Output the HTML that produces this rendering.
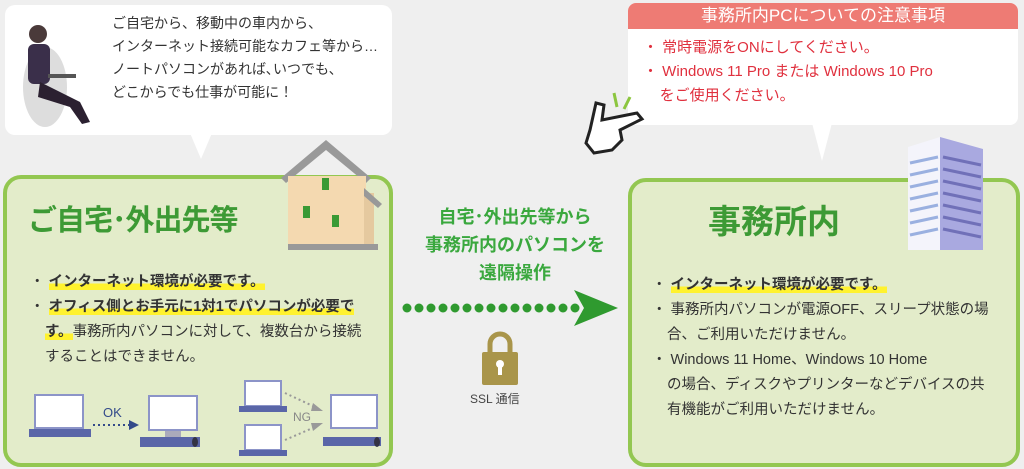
<!DOCTYPE html>
<html><head><meta charset="utf-8"><style>
body{margin:0;width:1024px;height:469px;background:#efefef;position:relative;overflow:hidden;font-family:"Liberation Sans","Noto Sans CJK JP",sans-serif;}
.a{position:absolute;}
.box{position:absolute;background:#e3ecca;border:4px solid #93c751;border-radius:18px;box-sizing:border-box;}
.t{color:#333;font-size:14.5px;line-height:25px;}
.hl{background:linear-gradient(transparent 60%,#fff22e 60%);font-weight:bold;}
</style></head><body>
<!-- left bubble -->
<div class="a" style="left:5px;top:5px;width:387px;height:130px;background:#fff;border-radius:10px;"></div>
<div class="a" style="left:190px;top:133px;width:0;height:0;border-left:11px solid transparent;border-right:11px solid transparent;border-top:26px solid #fff;"></div>
<div class="a" style="left:112px;top:12px;font-size:14px;line-height:23px;color:#333;">ご自宅から、移動中の車内から、<br>インターネット接続可能なカフェ等から…<br>ノートパソコンがあれば､いつでも、<br>どこからでも仕事が可能に！</div>
<svg class="a" style="left:10px;top:12px" width="95" height="120"><ellipse cx="35" cy="75" rx="22" ry="40" fill="#ddd"/><circle cx="28" cy="22" r="9" fill="#4a3a3a"/><rect x="18" y="32" width="22" height="40" rx="6" fill="#3a2f4a"/><path d="M30 70 L70 90 L80 110 L72 112 L60 95 L28 85Z" fill="#2b2030"/><rect x="38" y="62" width="28" height="4" fill="#555"/></svg>
<!-- right bubble -->
<div class="a" style="left:628px;top:3px;width:390px;height:122px;background:#fff;border-radius:8px;overflow:hidden;">
<div style="height:26px;background:#ee7b74;color:#fff;font-size:17px;line-height:26px;text-align:center;">事務所内PCについての注意事項</div></div>
<div class="a" style="left:812px;top:123px;width:0;height:0;border-left:10px solid transparent;border-right:10px solid transparent;border-top:38px solid #fff;"></div>
<div class="a" style="left:643px;top:36px;color:#e0303e;font-size:15px;line-height:24px;">・ 常時電源をONにしてください。<br>・ Windows 11 Pro または Windows 10 Pro<br>&nbsp;&nbsp;&nbsp;&nbsp;をご使用ください。</div>
<svg class="a" style="left:582px;top:85px" width="70" height="75"><path d="M8 45 L14 18 L22 20 L20 35 L55 28 L60 34 L38 45 L40 55 L30 65 L12 68 L4 58Z" fill="#fff" stroke="#222" stroke-width="3"/><path d="M32 8 L35 22 M48 12 L42 24" stroke="#8cc63f" stroke-width="3"/></svg>
<!-- left box -->
<div class="box" style="left:3px;top:175px;width:390px;height:292px;"></div>
<div class="a" style="left:28px;top:197px;color:#3d9a35;font-size:29px;font-weight:bold;letter-spacing:-1px;">ご自宅･外出先等</div>
<svg class="a" style="left:276px;top:138px" width="110" height="120"><path d="M5 40 L50 2 L95 40 L90 45 L50 12 L10 45Z" fill="#999"/><rect x="12" y="38" width="78" height="72" fill="#f4d9b0"/><rect x="88" y="55" width="10" height="55" fill="#e5c99f"/><path d="M88 50 L106 66 L102 70 L88 58Z" fill="#999"/><rect x="12" y="106" width="90" height="6" fill="#999"/><rect x="46" y="40" width="7" height="12" fill="#3a9a35"/><rect x="27" y="68" width="7" height="12" fill="#3a9a35"/><rect x="56" y="77" width="7" height="12" fill="#3a9a35"/></svg>
<div class="a t" style="left:30px;top:270px;width:350px;">
<div>・ <span class="hl">インターネット環境が必要です。</span></div>
<div style="padding-left:15px;text-indent:-15px;">・ <span class="hl">オフィス側とお手元に1対1でパソコンが必要で</span><br><span class="hl">す。</span>事務所内パソコンに対して、複数台から接続<br>することはできません。</div></div>
<svg class="a" style="left:25px;top:375px" width="360" height="90">
<rect x="10" y="20" width="48" height="33" fill="#fff" stroke="#8c94c8" stroke-width="2"/><rect x="4" y="54" width="62" height="8" fill="#5a66a8"/>
<rect x="124" y="21" width="48" height="34" fill="#fff" stroke="#8c94c8" stroke-width="2"/><rect x="140" y="56" width="16" height="6" fill="#aab"/><rect x="115" y="62" width="60" height="10" fill="#5a66a8"/><ellipse cx="170" cy="67" rx="3" ry="5" fill="#334"/>
<path d="M68 50 L104 50" stroke="#334a8a" stroke-width="2" stroke-dasharray="2 3"/><path d="M104 45 L114 50 L104 55Z" fill="#334a8a"/><text x="78" y="42" font-size="13" fill="#334a8a" font-family="Liberation Sans">OK</text>
<rect x="220" y="6" width="36" height="25" fill="#fff" stroke="#8c94c8" stroke-width="2"/><rect x="214" y="31" width="48" height="6" fill="#5a66a8"/>
<rect x="220" y="50" width="36" height="25" fill="#fff" stroke="#8c94c8" stroke-width="2"/><rect x="214" y="75" width="48" height="6" fill="#5a66a8"/>
<rect x="306" y="20" width="46" height="33" fill="#fff" stroke="#8c94c8" stroke-width="2"/><rect x="298" y="62" width="58" height="9" fill="#5a66a8"/><ellipse cx="352" cy="67" rx="3" ry="5" fill="#334"/>
<path d="M260 18 L290 32 M260 65 L290 52" stroke="#999" stroke-width="2" stroke-dasharray="2 3"/><path d="M288 28 L298 36 L286 36Z M286 48 L298 48 L288 56Z" fill="#999"/><text x="268" y="46" font-size="12" fill="#888" font-family="Liberation Sans">NG</text></svg>
<!-- middle -->
<div class="a" style="left:400px;top:203px;width:230px;text-align:center;color:#3aa83e;font-size:18px;line-height:28px;font-weight:bold;">自宅･外出先等から<br>事務所内のパソコンを<br>遠隔操作</div>
<svg class="a" style="left:400px;top:288px" width="222" height="42"><g fill="#2f9a2f"><path d="M174 2 L218 20 L174 38 L184 20Z"/>
<circle cx="7" cy="20" r="4.5"/><circle cx="19" cy="20" r="4.5"/><circle cx="31" cy="20" r="4.5"/><circle cx="43" cy="20" r="4.5"/><circle cx="55" cy="20" r="4.5"/><circle cx="67" cy="20" r="4.5"/><circle cx="79" cy="20" r="4.5"/><circle cx="91" cy="20" r="4.5"/><circle cx="103" cy="20" r="4.5"/><circle cx="115" cy="20" r="4.5"/><circle cx="127" cy="20" r="4.5"/><circle cx="139" cy="20" r="4.5"/><circle cx="151" cy="20" r="4.5"/><circle cx="163" cy="20" r="4.5"/><circle cx="175" cy="20" r="4.5"/></g></svg>
<svg class="a" style="left:478px;top:330px" width="44" height="58"><path d="M12 22 V14 a10 10 0 0 1 20 0 V22" fill="none" stroke="#a9954a" stroke-width="5"/><rect x="4" y="22" width="36" height="33" rx="2" fill="#a9954a"/><circle cx="22" cy="34" r="4" fill="#fff"/><rect x="20" y="35" width="4" height="10" fill="#fff"/></svg>
<div class="a" style="left:470px;top:390px;font-size:12px;color:#444;">SSL 通信</div>
<!-- right box -->
<div class="box" style="left:628px;top:178px;width:392px;height:289px;"></div>
<div class="a" style="left:708px;top:195px;color:#3d9a35;font-size:33px;font-weight:bold;">事務所内</div>
<svg class="a" style="left:905px;top:135px" width="80" height="120"><path d="M3 12 L35 2 L35 115 L3 115Z" fill="#f4f4fb"/><path d="M35 2 L78 14 L78 115 L35 115Z" fill="#a9a9e0"/>
<g stroke="#9ab0e0" stroke-width="3"><path d="M5 28 L33 22 M5 40 L33 34 M5 52 L33 46 M5 64 L33 58 M5 76 L33 70 M5 88 L33 82 M5 100 L33 94"/></g>
<g stroke="#7070b8" stroke-width="3"><path d="M38 22 L76 30 M38 34 L76 42 M38 46 L76 54 M38 58 L76 66 M38 70 L76 78 M38 82 L76 90 M38 94 L76 102"/></g></svg>
<div class="a t" style="left:652px;top:273px;width:355px;">
<div>・ <span class="hl">インターネット環境が必要です。</span></div>
<div style="padding-left:15px;text-indent:-15px;">・ 事務所内パソコンが電源OFF、スリープ状態の場<br>合、ご利用いただけません。</div>
<div style="padding-left:15px;text-indent:-15px;">・ Windows 11 Home、Windows 10 Home<br>の場合、ディスクやプリンターなどデバイスの共<br>有機能がご利用いただけません。</div></div>
</body></html>
